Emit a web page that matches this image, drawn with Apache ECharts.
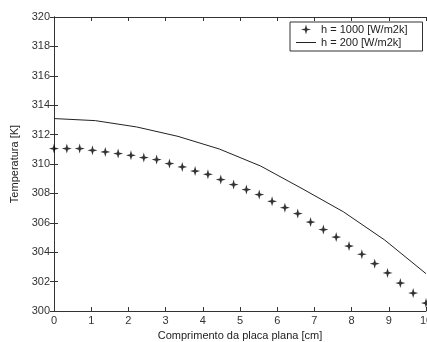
<!DOCTYPE html>
<html>
<head>
<meta charset="utf-8">
<script src="https://cdn.jsdelivr.net/npm/echarts@6/dist/echarts.min.js"></script>
<style>
  html, body { margin: 0; padding: 0; background: #fff; }
  #chart { width: 427px; height: 342px; }
</style>
</head>
<body>
<div id="chart"></div>
<script>
// Positions along the plate [cm] for h = 1000 (30 points, step 10/29)
const xPositions = [0.000, 0.345, 0.690, 1.034, 1.379, 1.724, 2.069, 2.414, 2.759, 3.103,
                    3.448, 3.793, 4.138, 4.483, 4.828, 5.172, 5.517, 5.862, 6.207, 6.552,
                    6.897, 7.241, 7.586, 7.931, 8.276, 8.621, 8.966, 9.310, 9.655, 10.000];
// h = 1000 [W/m2k] (star markers)
const tempH1000 = [311.05, 311.05, 311.05, 310.93, 310.82, 310.71, 310.59, 310.44, 310.30, 310.03,
                   309.80, 309.52, 309.30, 308.94, 308.60, 308.26, 307.92, 307.46, 307.03, 306.63,
                   306.05, 305.54, 305.03, 304.42, 303.86, 303.22, 302.59, 301.90, 301.22, 300.54];
// Positions for h = 200 line (10 vertices, step 10/9)
const xPositions200 = [0.000, 1.111, 2.222, 3.333, 4.444, 5.556, 6.667, 7.778, 8.889, 10.000];
// h = 200 [W/m2k] (solid line)
const tempH200 = [313.09, 312.95, 312.52, 311.88, 311.02, 309.86, 308.33, 306.75, 304.83, 302.54];
const seriesNames = ['h = 1000 [W/m2k]', 'h = 200 [W/m2k]'];
const xTitle = 'Comprimento da placa plana [cm]';
const yTitle = 'Temperatura [K]';

const FONT = 'Liberation Sans, Arial, sans-serif';
const AX = '#333';
const starPath = 'path://M0,-5 L1.1,-1.1 L5,0 L1.1,1.1 L0,5 L-1.1,1.1 L-5,0 L-1.1,-1.1 Z';
// thin horizontal line icon, with tiny corner marks fixing the 20x10 bounding box
const lineIcon = 'path://M0,0 L0.01,0 L0,0.01 Z M0,4.5 L20,4.5 L20,5.5 L0,5.5 Z M20,10 L19.99,10 L20,9.99 Z';

const chart = echarts.init(document.getElementById('chart'), null, { renderer: 'canvas' });

const baseAxis = {
  axisLine: { show: true, lineStyle: { color: AX, width: 1 } },
  axisTick: { show: true, inside: true, length: 4, lineStyle: { color: AX } },
  splitLine: { show: false }
};

chart.setOption({
  backgroundColor: '#fff',
  animation: false,
  grid: { left: 54, right: 1, top: 17, bottom: 31, containLabel: false, outerBoundsMode: 'none' },
  legend: {
    orient: 'vertical',
    left: 290, top: 22,
    padding: [2, 15, 3, 6],
    itemGap: 2,
    itemWidth: 20, itemHeight: 10,
    backgroundColor: '#fff',
    borderColor: '#333', borderWidth: 1, borderRadius: 0,
    textStyle: { fontFamily: FONT, fontSize: 11, color: '#222' },
    data: [
      { name: seriesNames[0], icon: starPath },
      { name: seriesNames[1], icon: lineIcon }
    ]
  },
  xAxis: [
    Object.assign({}, baseAxis, {
      type: 'value', min: 0, max: 10, interval: 1, position: 'bottom',
      name: xTitle, nameLocation: 'middle', nameGap: 18,
      nameTextStyle: { fontFamily: FONT, fontSize: 11, color: '#222' },
      axisLabel: { fontFamily: FONT, fontSize: 11, color: '#333', margin: 4, showMaxLabel: true, hideOverlap: false }
    }),
    Object.assign({}, baseAxis, {
      type: 'value', min: 0, max: 10, interval: 1, position: 'top',
      axisLabel: { show: false }
    })
  ],
  yAxis: [
    Object.assign({}, baseAxis, {
      type: 'value', min: 300, max: 320, interval: 2, position: 'left',
      name: yTitle, nameLocation: 'middle', nameGap: 30, nameRotate: 90,
      nameTextStyle: { fontFamily: FONT, fontSize: 11, color: '#222' },
      axisLabel: { fontFamily: FONT, fontSize: 11, color: '#333', margin: 4 }
    }),
    Object.assign({}, baseAxis, {
      type: 'value', min: 300, max: 320, interval: 2, position: 'right',
      axisLabel: { show: false }
    })
  ],
  series: [
    {
      name: seriesNames[0],
      type: 'scatter',
      xAxisIndex: 0, yAxisIndex: 0,
      symbol: starPath,
      symbolSize: 10,
      itemStyle: { color: '#000' },
      data: xPositions.map((x, i) => [x, tempH1000[i]])
    },
    {
      name: seriesNames[1],
      type: 'line',
      xAxisIndex: 0, yAxisIndex: 0,
      symbol: 'none',
      lineStyle: { color: '#222', width: 1 },
      itemStyle: { color: '#222' },
      data: xPositions200.map((x, i) => [x, tempH200[i]])
    }
  ]
});
</script>
</body>
</html>
